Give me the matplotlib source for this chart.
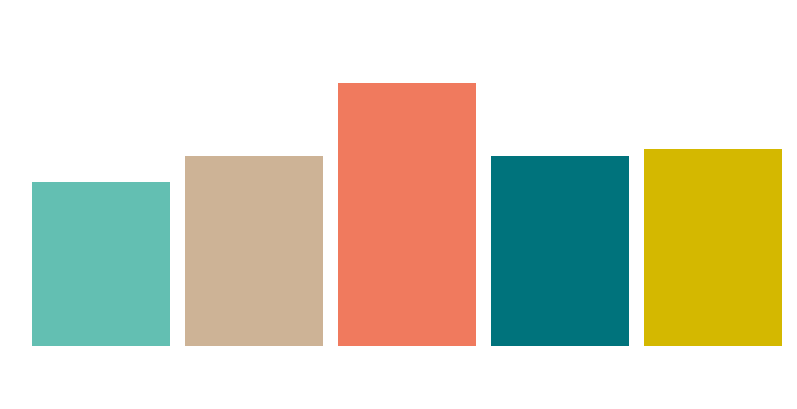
import matplotlib
matplotlib.use("Agg")
import matplotlib.pyplot as plt

categories = ["A", "B", "C", "D", "E"]
values = [62.4, 72.2, 100.0, 72.2, 74.9]
colors = ["#63bfb2", "#cdb396", "#f07a5e", "#00737c", "#d4b800"]

W, H = 797, 410
fig = plt.figure(figsize=(W / 100, H / 100), dpi=100)
fig.patch.set_facecolor("white")
ax = fig.add_axes([32.3 / W, (H - 347) / H, 750 / W, 263 / H])
x = list(range(len(categories)))
ax.bar(x, values, width=138 / 153, color=colors, linewidth=0)
ax.set_xlim(-0.5 * 138 / 153, len(categories) - 1 + 0.5 * 138 / 153)
ax.set_ylim(0, 100)
ax.axis("off")
fig.savefig("out.png", dpi=100, facecolor="white")
